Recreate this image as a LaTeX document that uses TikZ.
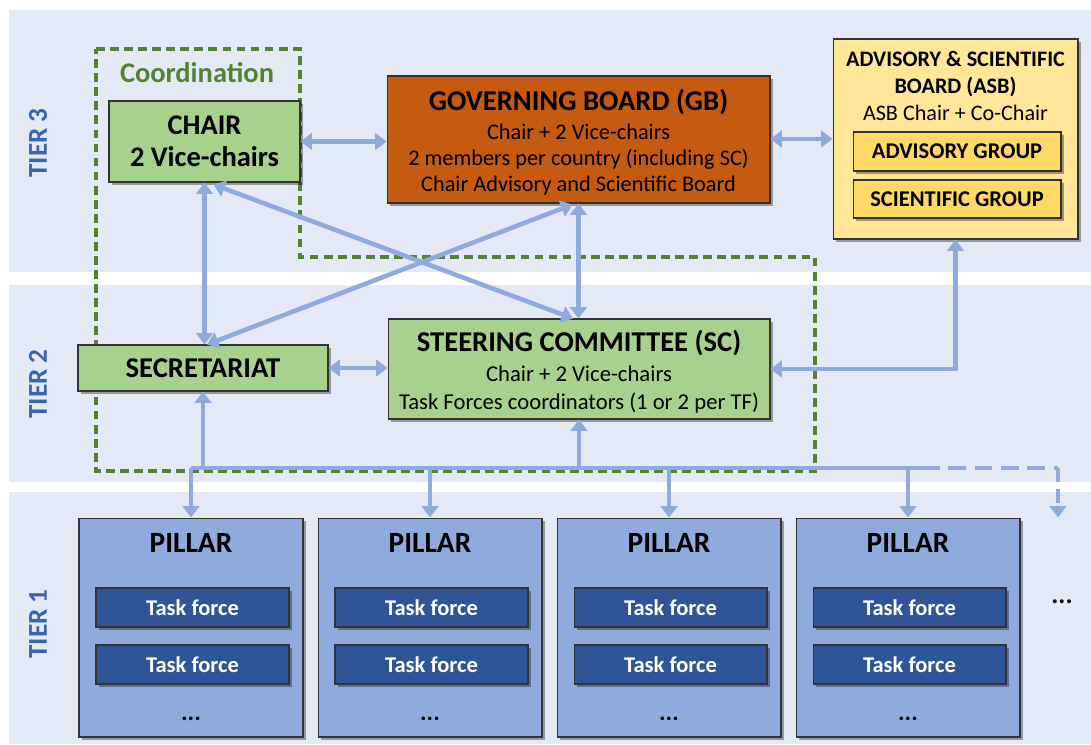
\documentclass[tikz,border=0pt]{standalone}
\usepackage{fontspec}
\setmainfont{Carlito}
\usetikzlibrary{arrows.meta,shadows,calc}
\definecolor{bandc}{HTML}{E4EAF5}
\definecolor{greenc}{HTML}{A9D18E}
\definecolor{gbc}{HTML}{C55A11}
\definecolor{asbc}{HTML}{FFE699}
\definecolor{grpc}{HTML}{FFD966}
\definecolor{pilc}{HTML}{8FAADC}
\definecolor{tfc}{HTML}{2F5597}
\definecolor{arrc}{HTML}{8FAADC}
\definecolor{coordc}{HTML}{548235}
\definecolor{tierc}{HTML}{3A64AE}
\newcommand{\fs}[2]{\fontsize{#1}{#2}\selectfont}
\tikzset{
  box/.style={draw=black!80, line width=0.6pt, inner sep=0pt,
    drop shadow={shadow xshift=1.5pt, shadow yshift=-1.5pt, opacity=0.35, fill=black}},
  greenbox/.style={box, fill=greenc},
  arr/.style={draw=arrc, line width=2.6pt, -{Triangle[length=6.5pt,width=9.5pt]}},
  darr/.style={draw=arrc, line width=2.6pt, {Triangle[length=6.5pt,width=9.5pt]}-{Triangle[length=6.5pt,width=9.5pt]}},
  tier/.style={rotate=90, text=tierc, font=\fs{15.5}{18}\bfseries},
  tfbox/.style={box, fill=tfc, minimum width=3.86cm, minimum height=0.78cm, text=white, font=\fs{12.8}{15}\bfseries},
  pillarbox/.style={box, fill=pilc, minimum width=4.48cm, minimum height=4.38cm},
}
\begin{document}
\begin{tikzpicture}[x=0.02cm,y=-0.02cm]
\useasboundingbox (0,0) rectangle (1091,744);
\clip (0,0) rectangle (1091,744);
% tier bands
\fill[bandc] (9,10) rectangle (1091,272);
\fill[bandc] (9,285) rectangle (1091,482);
\fill[bandc] (9,492) rectangle (1091,744);
\node[tier] (t3) at (38,143) {TIER 3};
\node[tier] (t2) at (38,384) {TIER 2};
\node[tier] (t1) at (38,624) {TIER 1};
% coordination region
\draw[coordc, line width=2pt, dash pattern=on 5pt off 3pt]
  (96,49) -- (300,49) -- (300,257) -- (815,257) -- (815,471) -- (96,471) -- cycle;
\node[text=coordc, font=\fs{16.2}{18}\bfseries] (coordlbl) at (197,73) {Coordination};
% tier 3
\node[greenbox, minimum width=3.82cm, minimum height=1.62cm, align=center,
  font=\fs{16.2}{18}\bfseries] (chair) at (204.5,141.5) {CHAIR\\2 Vice-chairs};
\node[box, fill=gbc, minimum width=7.66cm, minimum height=2.54cm] (gb) at (578.5,139.5) {};
\node[font=\fs{16.3}{18}\bfseries] (gbt) at (578.5,102) {GOVERNING BOARD (GB)};
\node[font=\fs{12.7}{14.7}, align=center, anchor=north] (gbb) at (578.5,118)
  {Chair + 2 Vice-chairs\\2 members per country (including SC)\\Chair Advisory and Scientific Board};
\node[box, fill=asbc, minimum width=4.9cm, minimum height=4.0cm] (asb) at (955.5,139) {};
\node[font=\fs{12.6}{15.2}\bfseries, align=center] (asbt) at (955.5,74) {ADVISORY \& SCIENTIFIC\\BOARD (ASB)};
\node[font=\fs{12.6}{14}] (asbs) at (955.5,113) {ASB Chair + Co-Chair};
\node[box, fill=grpc, minimum width=4.16cm, minimum height=0.78cm, font=\fs{12.8}{14}\bfseries] (advg) at (957,151.5) {ADVISORY GROUP};
\node[box, fill=grpc, minimum width=4.16cm, minimum height=0.76cm, font=\fs{12.8}{14}\bfseries] (scig) at (957,199) {SCIENTIFIC GROUP};
% tier 2
\node[greenbox, minimum width=5.0cm, minimum height=0.92cm, font=\fs{16.3}{18}\bfseries] (sec) at (203,368) {SECRETARIAT};
\node[greenbox, minimum width=7.64cm, minimum height=2.0cm] (sc) at (579,369) {};
\node[font=\fs{16.3}{18}\bfseries] (sct) at (579,343) {STEERING COMMITTEE (SC)};
\node[font=\fs{12.9}{15.4}, align=center, anchor=north] (scb) at (579,360)
  {Chair + 2 Vice-chairs\\Task Forces coordinators (1 or 2 per TF)};
% tier 1 pillars
\foreach \i/\cx in {1/191,2/430,3/669,4/908}{
  \node[pillarbox] (p\i) at (\cx,627.5) {};
  \node[font=\fs{16.7}{18}\bfseries] (p\i t) at (\cx,543) {PILLAR};
  \node[tfbox] (tf\i a) at (\cx+1.5,607.5) {Task force};
  \node[tfbox] (tf\i b) at (\cx+1.5,664.5) {Task force};
  \node[font=\fs{14}{15}\bfseries] (p\i d) at (\cx,719) {...};
}
\node[font=\fs{15}{16}\bfseries] (moredots) at (1062,602) {...};
% connectors
\draw[darr] (chair.east) -- (chair.east -| gb.west);
\draw[darr] (gb.east |- asb.west) -- (asb.west);
\draw[darr] (chair.south) -- (chair.south |- sec.north);
\draw[darr] ($(chair.south)+(9,2)$) -- ($(sc.north)+(-6,0)$);
\draw[darr] ($(gb.south)+(-6,1)$) -- ($(sec.north)+(4,0)$);
\draw[darr] (gb.south) -- (gb.south |- sc.north);
\draw[darr] (sec.east) -- (sec.east -| sc.west);
\draw[darr] (asb.south) |- (sc.east);
% bus
\coordinate (busl) at (191,468);
\coordinate (busr) at (922,468);
\coordinate (busend) at (1058,468);
\draw[draw=arrc, line width=2.6pt] (busl) -- (busr);
\draw[arr] (busl -| sec.south) -- (sec.south);
\draw[arr] (busl -| sc.south) -- (sc.south);
\foreach \i in {1,2,3,4}{
  \draw[arr] (busl -| p\i.north) -- (p\i.north);
}
\draw[draw=arrc, line width=2.6pt, dash pattern=on 10pt off 5pt] (busr) -- (busend);
\draw[arr, dash pattern=on 8pt off 4pt] (busend) -- (busend |- p4.north);
\end{tikzpicture}
\end{document}
